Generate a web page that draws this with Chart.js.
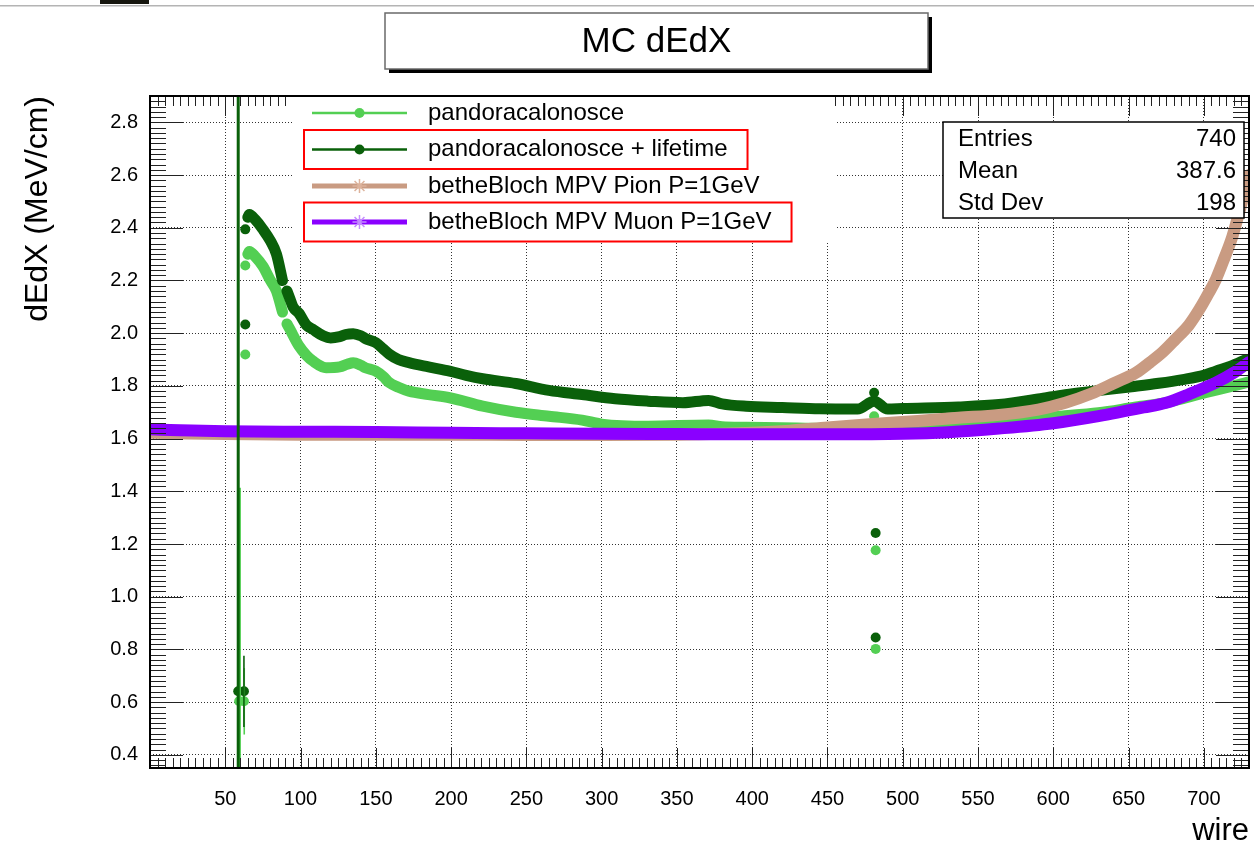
<!DOCTYPE html>
<html>
<head>
<meta charset="utf-8">
<script src="https://cdn.jsdelivr.net/npm/chart.js@4/dist/chart.umd.min.js"></script>
<style>
  html, body { margin: 0; padding: 0; background: #fff; }
  #wrap { position: relative; width: 1254px; height: 850px; }
</style>
</head>
<body>
<div id="wrap"><canvas id="c" width="1254" height="850"></canvas></div>
<script>
const FONT = "'Liberation Sans', Arial, Helvetica, sans-serif";

// axis ticks
const xTickValues = [50, 100, 150, 200, 250, 300, 350, 400, 450, 500, 550, 600, 650, 700];
const yTickValues = [0.4, 0.6, 0.8, 1.0, 1.2, 1.4, 1.6, 1.8, 2.0, 2.2, 2.4, 2.6, 2.8];

// pandoracalonosce (light green): main trend along the track
const recoWire = [65, 66, 70, 75, 80, 84, 88, 89, 91, 93, 99, 104, 108, 117, 126, 131, 135, 140, 143, 150, 155, 159, 165, 172, 185, 199, 221, 243, 265, 287, 300, 331, 371, 380, 396, 430, 470, 500, 530, 564, 577, 605, 630, 655, 675, 701, 719, 730];
const recoVal  = [2.30, 2.31, 2.29, 2.254, 2.20, 2.16, 2.08, null, 2.035, 2.014, 1.951, 1.915, 1.895, 1.869, 1.872, 1.882, 1.888, 1.878, 1.869, 1.856, 1.835, 1.812, 1.795, 1.78, 1.767, 1.755, 1.723, 1.70, 1.685, 1.67, 1.655, 1.647, 1.652, 1.645, 1.643, 1.64, 1.638, 1.64, 1.648, 1.66, 1.672, 1.685, 1.698, 1.72, 1.736, 1.774, 1.799, 1.815];
// pandoracalonosce: isolated hits
const recoExtraWire = [59.2, 62.4, 63.3, 63.3, 481, 482, 482];
const recoExtraVal  = [0.603, 0.603, 1.919, 2.257, 1.685, 1.176, 0.802];
const recoErrWire = [59.4, 62.6];
const recoErrVal  = [0.603, 0.603];
const recoErr     = [0.81, 0.126];

// pandoracalonosce + lifetime (dark green)
const lifeWire = [65, 66, 70, 75, 80, 84, 88, 89, 91, 93, 95, 99, 104, 108, 115, 120, 126, 130, 135, 140, 143, 150, 155, 159, 165, 172, 185, 199, 210, 221, 243, 265, 287, 309, 331, 354, 371, 380, 396, 420, 445, 470, 481, 490, 500, 537, 564, 590, 608, 630, 652, 670, 686, 700, 708, 718, 728];
const lifeVal  = [2.44, 2.45, 2.43, 2.394, 2.35, 2.30, 2.20, null, 2.16, 2.13, 2.10, 2.075, 2.03, 2.015, 1.99, 1.982, 1.987, 1.995, 1.998, 1.99, 1.98, 1.964, 1.94, 1.92, 1.90, 1.888, 1.872, 1.856, 1.84, 1.827, 1.809, 1.783, 1.767, 1.751, 1.742, 1.736, 1.745, 1.732, 1.723, 1.718, 1.713, 1.712, 1.742, 1.712, 1.714, 1.72, 1.729, 1.75, 1.767, 1.782, 1.797, 1.81, 1.824, 1.84, 1.856, 1.875, 1.90];
const lifeExtraWire = [58.6, 62.4, 63.3, 63.3, 481, 482, 482];
const lifeExtraVal  = [0.641, 0.641, 2.033, 2.394, 1.774, 1.242, 0.845];
const lifeErrWire = [58.6, 62.4];
const lifeErrVal  = [0.641, 0.641];
const lifeErr     = [2.6, 0.135];

// betheBloch MPV Pion P=1GeV
const pionWire = [0, 25, 50, 100, 150, 200, 250, 300, 350, 380, 400, 425, 450, 480, 510, 537, 564, 590, 608, 625, 641, 655, 664, 673, 681, 690, 697, 703, 708, 714, 719, 724, 730];
const pionVal  = [1.622, 1.619, 1.617, 1.615, 1.615, 1.615, 1.614, 1.614, 1.615, 1.618, 1.622, 1.630, 1.642, 1.655, 1.667, 1.679, 1.690, 1.710, 1.736, 1.770, 1.812, 1.850, 1.888, 1.930, 1.976, 2.030, 2.090, 2.150, 2.204, 2.290, 2.368, 2.470, 2.60];

// betheBloch MPV Muon P=1GeV
const muonWire = [0, 20, 50, 100, 150, 200, 250, 300, 350, 400, 450, 500, 530, 564, 600, 630, 660, 675, 690, 708, 720, 730];
const muonVal  = [1.635, 1.632, 1.628, 1.626, 1.625, 1.622, 1.620, 1.618, 1.617, 1.616, 1.616, 1.618, 1.624, 1.638, 1.658, 1.685, 1.718, 1.736, 1.768, 1.812, 1.850, 1.890];

// statistics box
const statNames  = ['Entries', 'Mean', 'Std Dev'];
const statValues = ['740', '387.6', '198'];

const COL_RECO = '#53cf53';
const COL_LIFE = '#0a600a';
const COL_PION = '#c99b82';
const COL_MUON = '#8a00ff';

const legendItems = [
  { label: 'pandoracalonosce', color: COL_RECO, width: 2.5, marker: 'circle', boxed: false },
  { label: 'pandoracalonosce + lifetime', color: COL_LIFE, width: 2.5, marker: 'circle', boxed: true },
  { label: 'betheBloch MPV Pion P=1GeV', color: COL_PION, width: 5, marker: 'star', boxed: false },
  { label: 'betheBloch MPV Muon P=1GeV', color: COL_MUON, width: 5, marker: 'star', boxed: true }
];

const pts = (xs, ys) => xs.map((x, i) => ({ x: x, y: ys[i] }));

function band(data, color, width, order) {
  return {
    data: data, showLine: true, borderColor: color, backgroundColor: color,
    borderWidth: width, pointRadius: 0, borderCapStyle: 'round', borderJoinStyle: 'round',
    cubicInterpolationMode: 'monotone', spanGaps: false, order: order
  };
}
function dots(data, color, order) {
  return {
    data: data, showLine: false, pointRadius: 5, pointBorderWidth: 0,
    pointBackgroundColor: color, borderColor: color, order: order
  };
}

function drawStar(ctx, cx, cy, r) {
  ctx.beginPath();
  for (let k = 0; k < 4; k++) {
    const a = k * Math.PI / 4;
    ctx.moveTo(cx - r * Math.cos(a), cy - r * Math.sin(a));
    ctx.lineTo(cx + r * Math.cos(a), cy + r * Math.sin(a));
  }
  ctx.stroke();
}

const decor = {
  id: 'decor',
  beforeDraw(chart) {
    const ctx = chart.ctx;
    ctx.save();
    ctx.fillStyle = '#fff';
    ctx.fillRect(0, 0, chart.width, chart.height);
    ctx.fillStyle = '#b4b4b4';
    ctx.fillRect(0, 5, chart.width, 1.5);
    ctx.fillStyle = '#16160e';
    ctx.fillRect(100, 0, 49, 4);
    ctx.restore();
  },
  afterDatasetsDraw(chart) {
    const { ctx, chartArea: a, scales: { x, y } } = chart;
    ctx.save();
    ctx.beginPath();
    ctx.rect(a.left, a.top, a.right - a.left, a.bottom - a.top);
    ctx.clip();
    const bars = (ws, vs, es, color, widths) => {
      ctx.strokeStyle = color;
      ws.forEach((w, i) => {
        const px = x.getPixelForValue(w);
        ctx.lineWidth = widths[i];
        ctx.beginPath();
        ctx.moveTo(px, y.getPixelForValue(vs[i] - es[i]));
        ctx.lineTo(px, y.getPixelForValue(vs[i] + es[i]));
        ctx.stroke();
      });
    };
    bars(recoErrWire, recoErrVal, recoErr, COL_RECO, [3, 1.6]);
    bars(lifeErrWire, lifeErrVal, lifeErr, COL_LIFE, [3, 1.6]);
    ctx.restore();
  },
  afterDraw(chart) {
    const { ctx, chartArea: a, scales: { x, y } } = chart;
    ctx.save();

    // tick marks on all four sides
    ctx.strokeStyle = '#222';
    ctx.lineWidth = 1;
    ctx.beginPath();
    for (let k = 1; k * 5 < 730; k++) {
      const w = k * 5;
      const px = Math.round(x.getPixelForValue(w)) + 0.5;
      const len = (w % 50 === 0) ? 20 : 10;
      ctx.moveTo(px, a.bottom); ctx.lineTo(px, a.bottom - len);
      ctx.moveTo(px, a.top); ctx.lineTo(px, a.top + len);
    }
    for (let k = 18; k <= 145; k++) {
      const v = k * 0.02;
      const py = Math.round(y.getPixelForValue(v)) + 0.5;
      const len = (k % 10 === 0) ? 33 : 16;
      ctx.moveTo(a.left, py); ctx.lineTo(a.left + len, py);
      ctx.moveTo(a.right, py); ctx.lineTo(a.right - len, py);
    }
    ctx.stroke();

    // legend background
    ctx.fillStyle = '#fff';
    ctx.fillRect(292, a.top + 1, 543, 242 - a.top - 1);

    // frame
    ctx.strokeStyle = '#000';
    ctx.lineWidth = 2;
    ctx.strokeRect(a.left, a.top, a.right - a.left, a.bottom - a.top);

    // legend entries
    const rowY = [113, 149.5, 186, 222];
    ctx.font = '24px ' + FONT;
    ctx.textBaseline = 'middle';
    ctx.textAlign = 'left';
    legendItems.forEach((it, i) => {
      const yy = rowY[i];
      ctx.strokeStyle = it.color;
      ctx.lineWidth = it.width;
      ctx.beginPath();
      ctx.moveTo(312, yy); ctx.lineTo(407, yy);
      ctx.stroke();
      if (it.marker === 'circle') {
        ctx.fillStyle = it.color;
        ctx.beginPath(); ctx.arc(359.5, yy, 5, 0, Math.PI * 2); ctx.fill();
      } else {
        ctx.strokeStyle = it.color === COL_MUON ? '#c48cff' : '#ddb39c';
        ctx.lineWidth = 1.5;
        drawStar(ctx, 359.5, yy, 7);
      }
      ctx.fillStyle = '#000';
      ctx.fillText(it.label, 428, yy);
      if (it.boxed) {
        ctx.strokeStyle = '#ff0000';
        ctx.lineWidth = 2;
        const w = ctx.measureText(it.label).width;
        ctx.strokeRect(304, yy - 19.5, 428 + w + 20 - 304, 39);
      }
    });

    // statistics box
    ctx.fillStyle = '#fff';
    ctx.fillRect(943, 122, 301, 96);
    ctx.strokeStyle = '#000';
    ctx.lineWidth = 1.5;
    ctx.strokeRect(943, 122, 301, 96);
    ctx.fillStyle = '#000';
    ctx.font = '24px ' + FONT;
    const statY = [139.5, 171.5, 203.5];
    statNames.forEach((n, i) => {
      ctx.textAlign = 'left';
      ctx.fillText(n, 958, statY[i]);
      ctx.textAlign = 'right';
      ctx.fillText(statValues[i], 1236, statY[i]);
    });

    // title box with shadow
    ctx.fillStyle = '#000';
    ctx.fillRect(389, 17, 543, 56);
    ctx.fillStyle = '#fff';
    ctx.fillRect(385, 13, 543, 56);
    ctx.strokeStyle = '#6a6a6a';
    ctx.lineWidth = 1.5;
    ctx.strokeRect(385, 13, 543, 56);
    ctx.fillStyle = '#000';
    ctx.textAlign = 'center';
    ctx.font = '35px ' + FONT;
    ctx.fillText('MC dEdX', 656.5, 42);

    ctx.restore();
  }
};

const gridStyle = { color: 'rgba(0,0,0,0.8)', lineWidth: 1, drawTicks: false };

new Chart(document.getElementById('c').getContext('2d'), {
  type: 'line',
  data: {
    datasets: [
      band(pts(muonWire, muonVal), COL_MUON, 12, 0),
      band(pts(pionWire, pionVal), COL_PION, 12, 1),
      dots(pts(lifeExtraWire, lifeExtraVal), COL_LIFE, 2),
      band(pts(lifeWire, lifeVal), COL_LIFE, 11, 3),
      dots(pts(recoExtraWire, recoExtraVal), COL_RECO, 4),
      band(pts(recoWire, recoVal), COL_RECO, 11, 5)
    ]
  },
  options: {
    responsive: false,
    animation: false,
    events: [],
    layout: { padding: { top: 96, right: 3, bottom: 0, left: 0 } },
    plugins: { legend: { display: false }, tooltip: { enabled: false }, title: { display: false } },
    scales: {
      x: {
        type: 'linear', min: 0, max: 730,
        afterBuildTicks: s => { s.ticks = xTickValues.map(v => ({ value: v })); },
        afterFit: s => { s.height = 82; },
        ticks: { font: { family: FONT, size: 20 }, color: '#000', padding: 19, maxRotation: 0, autoSkip: false,
                 callback: v => String(v) },
        grid: gridStyle,
        border: { display: false, dash: [1, 2] },
        title: { display: true, text: 'wire', align: 'end', color: '#000',
                 font: { family: FONT, size: 31 }, padding: { top: 0, bottom: 0 } }
      },
      y: {
        type: 'linear', min: 0.35, max: 2.9,
        afterBuildTicks: s => { s.ticks = yTickValues.map(v => ({ value: v })); },
        afterFit: s => { s.width = 150; },
        ticks: { font: { family: FONT, size: 20 }, color: '#000', padding: 12, autoSkip: false,
                 callback: v => Number(v).toFixed(1) },
        grid: gridStyle,
        border: { display: false, dash: [1, 2] },
        title: { display: true, text: 'dEdX (MeV/cm)', align: 'end', color: '#000',
                 font: { family: FONT, size: 32 }, padding: { top: 19, bottom: 0 } }
      }
    }
  },
  plugins: [decor]
});
</script>
</body>
</html>
